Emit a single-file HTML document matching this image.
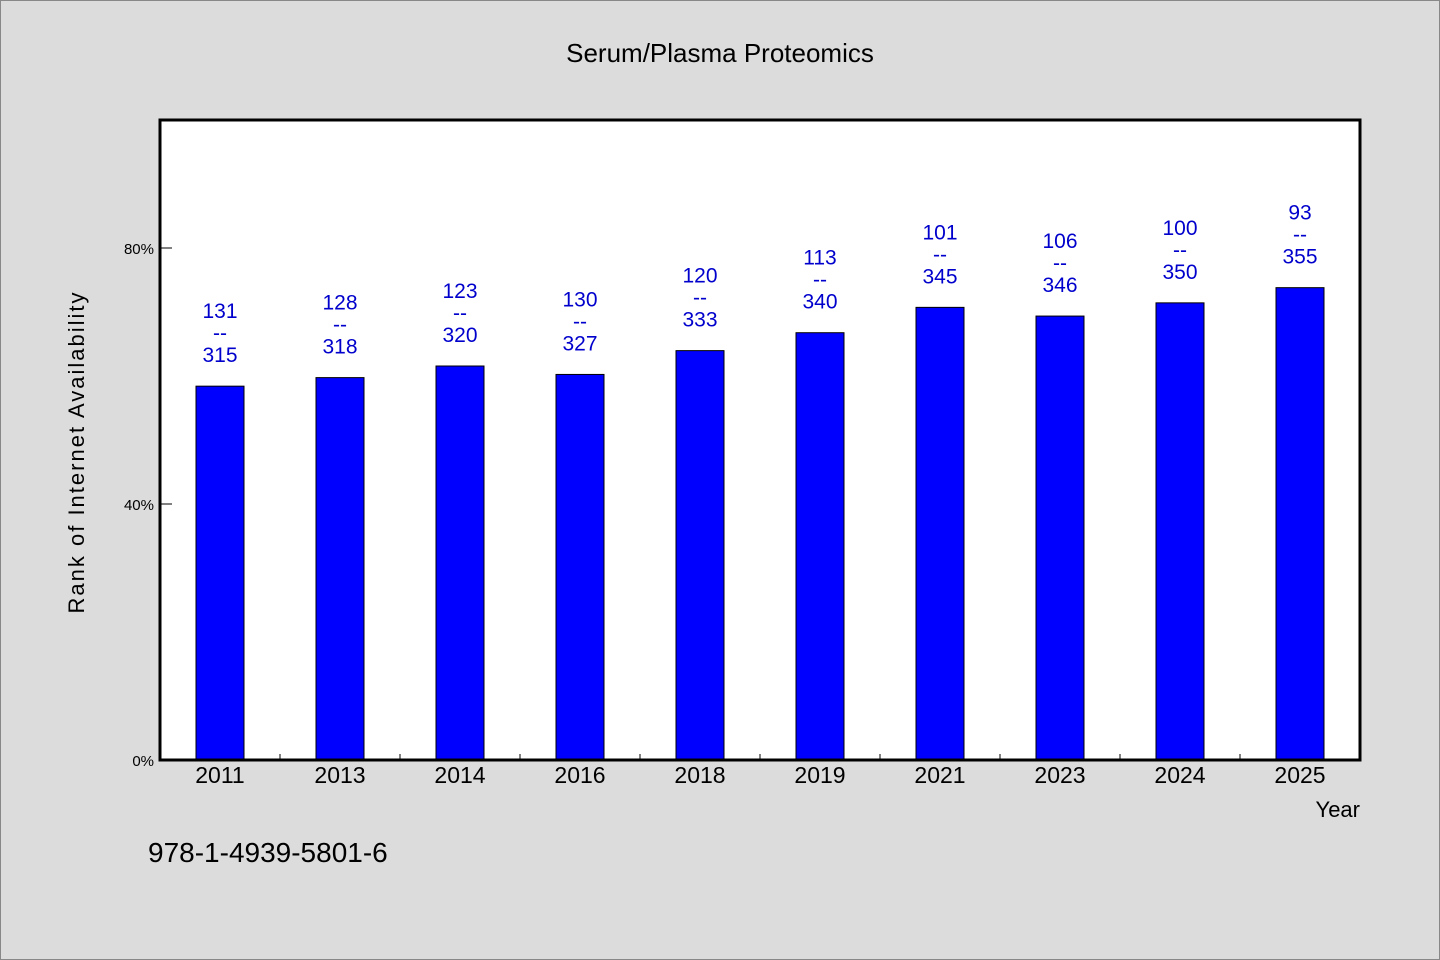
<!DOCTYPE html>
<html><head><meta charset="utf-8"><style>
body{margin:0;background:#dcdcdc;}
svg{display:block;font-family:"WenQuanYi Zen Hei","Liberation Sans",sans-serif;}
</style></head><body>
<svg id="c" width="1440" height="960">
<rect x="0.5" y="0.5" width="1439" height="959" fill="#dcdcdc" stroke="#888"/>
<text x="720" y="62" font-size="26" text-anchor="middle">Serum/Plasma Proteomics</text>
<rect x="160" y="120" width="1200" height="640" fill="#fff"/>
<g id="bars"></g>
<rect x="160" y="120" width="1200" height="640" fill="none" stroke="#000" stroke-width="3"/>
<text transform="translate(84,452) rotate(-90)" font-size="22" text-anchor="middle" letter-spacing="2">Rank of Internet Availability</text>
<text x="1360" y="817" font-size="22" text-anchor="end">Year</text>
<text x="148" y="862" font-size="28">978-1-4939-5801-6</text>
</svg>
<script>
const years=["2011","2013","2014","2016","2018","2019","2021","2023","2024","2025"];
const ranks=[131,128,123,130,120,113,101,106,100,93];
const totals=[315,318,320,327,333,340,345,346,350,355];
const yTicks=[0,40,80];
const ns="http://www.w3.org/2000/svg";
const g=document.getElementById('bars');
const x0=160,pw=1200,y0=760,ph=640,n=years.length,step=pw/n,bw=48;
const yS=v=>y0-v/100*ph;
const xC=i=>x0+step*(i+0.5);
function mk(t,a,txt){const e=document.createElementNS(ns,t);for(const k in a)e.setAttribute(k,a[k]);if(txt!=null)e.textContent=txt;g.appendChild(e);return e;}
yTicks.forEach(v=>{
 const y=yS(v);
 if(v>0){const l=mk('line',{x1:x0,x2:x0+12,y1:y,y2:y,stroke:'#000','stroke-width':1});
 }
 const t=mk('text',{x:x0-6,y:y+6,'font-size':15,'text-anchor':'end'},v+'%');
 
});
for(let i=1;i<n;i++){const x=x0+step*i;const l=mk('line',{x1:x,x2:x,y1:y0,y2:y0-6,stroke:'#000','stroke-width':1});
 }
years.forEach((yr,i)=>{
 const v=(1-ranks[i]/totals[i])*100;const top=yS(v);const cx=xC(i);
 const r=mk('rect',{x:cx-bw/2,y:top,width:bw,height:y0-top,fill:'#0000ff',stroke:'#000','stroke-width':1});
 
 const a=mk('text',{x:cx,y:top-68,'font-size':21,'text-anchor':'middle',fill:'#0000cc'},ranks[i]);
 
 const d=mk('text',{x:cx,y:top-46,'font-size':21,'text-anchor':'middle',fill:'#0000cc'},'--');
 
 const b=mk('text',{x:cx,y:top-24,'font-size':21,'text-anchor':'middle',fill:'#0000cc'},totals[i]);
 
 const xl=mk('text',{x:cx,y:y0+23,'font-size':23,'text-anchor':'middle'},yr);
 
});
</script>
</body></html>
